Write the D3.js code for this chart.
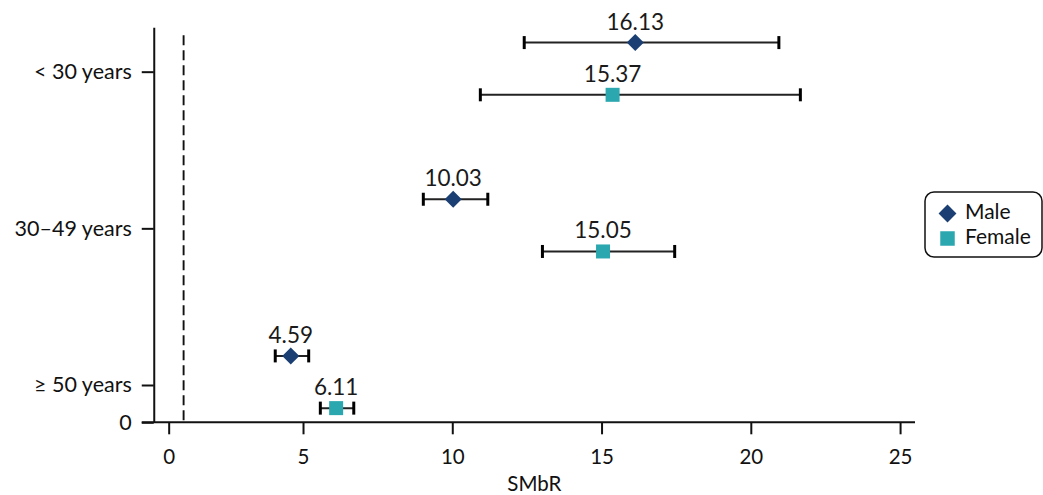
<!DOCTYPE html>
<html>
<head>
<meta charset="utf-8">
<script src="https://cdn.jsdelivr.net/npm/d3@7"></script>
<style>
  html, body { margin: 0; padding: 0; background: #fff; }
  svg { display: block; font-family: Lato, "Open Sans", sans-serif; }
</style>
</head>
<body>
<svg id="chart" width="1043" height="495"></svg>
<script>
// Age groups and their vertical positions on the y scale
const ageGroups = ["≥ 50 years", "30–49 years", "< 30 years"];
const agePositions = [1, 5.2, 9.4];

// SMbR estimates with confidence limits, ordered like ageGroups
const maleValues = [4.59, 10.03, 16.13];
const maleLower = [4.07, 9.03, 12.41];
const maleUpper = [5.19, 11.19, 20.94];

const femaleValues = [6.11, 15.05, 15.37];
const femaleLower = [5.58, 13.02, 10.94];
const femaleUpper = [6.70, 17.45, 21.66];

// Vertical offsets of each sex within an age group (y units)
const maleOffset = 0.78;
const femaleOffset = -0.62;

// X tick positions and labels
const xTickValues = [0.5, 5, 10, 15, 20, 25];
const xTickLabels = ["0", "5", "10", "15", "20", "25"];
const referenceLine = 1;

const colors = { Male: "#1b3f73", Female: "#2aa7af" };

const svg = d3.select("#chart");
const plotLeft = 153.75, plotRight = 915, plotTop = 27.3, plotBottom = 422.3;

const x = d3.scaleLinear().domain([0, 25.5]).range([plotLeft, plotRight]);
const y = d3.scaleLinear().domain([0, (plotBottom - plotTop) / 37.3]).range([plotBottom, plotTop]);

// Build the rows for both series
const rows = [];
ageGroups.forEach((g, i) => {
  rows.push({ sex: "Male", v: maleValues[i], lo: maleLower[i], hi: maleUpper[i], pos: agePositions[i] + maleOffset });
  rows.push({ sex: "Female", v: femaleValues[i], lo: femaleLower[i], hi: femaleUpper[i], pos: agePositions[i] + femaleOffset });
});

// X axis
const xAxis = d3.axisBottom(x)
  .tickValues(xTickValues)
  .tickFormat((d, i) => xTickLabels[i])
  .tickSize(12)
  .tickSizeOuter(0)
  .tickPadding(15);
const gx = svg.append("g").attr("transform", `translate(0,${plotBottom})`).call(xAxis);
gx.select(".domain").attr("d", `M${plotLeft - 12},0H${plotRight}`).attr("stroke", "#111").attr("stroke-width", 2);
gx.selectAll(".tick line").attr("stroke", "#111").attr("stroke-width", 2);
gx.selectAll(".tick text").attr("font-size", 20.5).attr("fill", "#111").attr("font-family", "Lato");

// Y axis
const yAxis = d3.axisLeft(y)
  .tickValues([0].concat(agePositions))
  .tickFormat((d, i) => i === 0 ? "0" : ageGroups[i - 1])
  .tickSize(12)
  .tickSizeOuter(0)
  .tickPadding(10);
const gy = svg.append("g").attr("transform", `translate(${plotLeft},0)`).call(yAxis);
gy.select(".domain").attr("stroke", "#111").attr("stroke-width", 2);
gy.selectAll(".tick line").attr("stroke", "#111").attr("stroke-width", 2);
gy.selectAll(".tick text").attr("font-size", 21.5).attr("fill", "#111").attr("font-family", "Lato");

// Axis title
svg.append("text")
  .attr("x", (plotLeft + plotRight) / 2)
  .attr("y", 491)
  .attr("text-anchor", "middle")
  .attr("font-size", 20.5)
  .attr("fill", "#111")
  .text("SMbR");

// Reference line at SMbR = 1
svg.append("line")
  .attr("x1", x(referenceLine)).attr("x2", x(referenceLine))
  .attr("y1", plotTop + 8).attr("y2", plotBottom)
  .attr("stroke", "#111").attr("stroke-width", 1.9)
  .attr("stroke-dasharray", "10,5");

// Error bars
const bars = svg.append("g").selectAll("g").data(rows).join("g");
bars.append("line")
  .attr("x1", d => x(d.lo)).attr("x2", d => x(d.hi))
  .attr("y1", d => y(d.pos)).attr("y2", d => y(d.pos))
  .attr("stroke", "#222").attr("stroke-width", 2);
bars.selectAll("line.cap")
  .data(d => [{ xv: d.lo, pos: d.pos }, { xv: d.hi, pos: d.pos }])
  .join("line").attr("class", "cap")
  .attr("x1", d => x(d.xv)).attr("x2", d => x(d.xv))
  .attr("y1", d => y(d.pos) - 6.5).attr("y2", d => y(d.pos) + 6.5)
  .attr("stroke", "#000").attr("stroke-width", 3);

// Markers
const diamond = d3.symbol().type(d3.symbolSquare).size(145)();
const square = d3.symbol().type(d3.symbolSquare).size(196)();
svg.append("g").selectAll("path").data(rows).join("path")
  .attr("d", d => d.sex === "Male" ? diamond : square)
  .attr("transform", d => `translate(${x(d.v)},${y(d.pos)})` + (d.sex === "Male" ? " rotate(45)" : ""))
  .attr("fill", d => colors[d.sex]);

// Value labels
svg.append("g").selectAll("text").data(rows).join("text")
  .attr("x", d => x(d.v))
  .attr("y", d => y(d.pos) - 13)
  .attr("text-anchor", "middle")
  .attr("font-size", 22.5)
  .attr("fill", "#1a1a1a")
  .text(d => d.v.toFixed(2));

// Legend
const legend = svg.append("g").attr("transform", "translate(925,192)");
legend.append("rect")
  .attr("width", 117).attr("height", 65)
  .attr("rx", 9).attr("ry", 9)
  .attr("fill", "#fff").attr("stroke", "#111").attr("stroke-width", 1.5);
const legendItems = ["Male", "Female"];
legendItems.forEach((s, i) => {
  const cy = 21.5 + i * 25;
  legend.append("path")
    .attr("d", s === "Male" ? d3.symbol().type(d3.symbolSquare).size(160)() : d3.symbol().type(d3.symbolSquare).size(210)())
    .attr("transform", `translate(22.5,${cy})` + (s === "Male" ? " rotate(45)" : ""))
    .attr("fill", colors[s]);
  legend.append("text")
    .attr("x", 40).attr("y", cy + 5.5)
    .attr("font-size", 21)
    .attr("fill", "#111")
    .text(s);
});
</script>
</body>
</html>
